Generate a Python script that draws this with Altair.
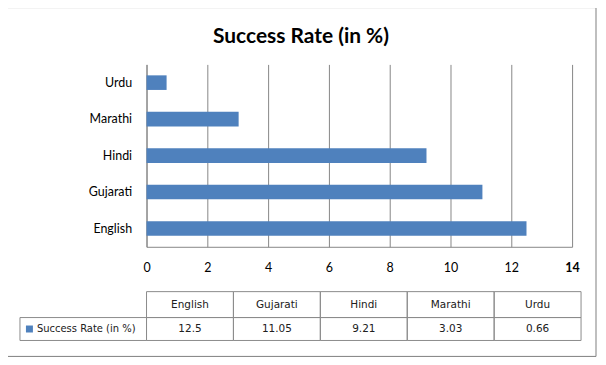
import altair as alt
import pandas as pd

categories = ["English", "Gujarati", "Hindi", "Marathi", "Urdu"]
values = [12.5, 11.05, 9.21, 3.03, 0.66]
x_ticks = [0, 2, 4, 6, 8, 10, 12, 14]
title_text = "Success Rate (in %)"
series_name = "Success Rate (in %)"

df = pd.DataFrame({"cat": categories, "val": values})
one = pd.DataFrame({"t": [title_text], "s": [series_name]})

BLUE = "#4F81BD"
GRID = "#878787"
TBL = "#8C8C8C"
W, H = 427, 183

base = alt.Chart(df)

bars = base.mark_bar(color=BLUE).encode(
    x=alt.X("val:Q",
            scale=alt.Scale(domain=[0, 14], nice=False),
            axis=alt.Axis(values=x_ticks, title=None, grid=True, gridColor=GRID,
                          domainColor=GRID, ticks=False, tickSize=0, labelPadding=15,
                          labelFont="Lato", labelFontSize=12.5, labelColor="#000000",
                          labelFontWeight=alt.ExprRef(expr="datum.value == 14 ? 'bold' : 'normal'"),
                          labelFlush=False)),
    y=alt.Y("cat:N", sort=categories[::-1],
            scale=alt.Scale(paddingInner=0.6, paddingOuter=0.3),
            axis=alt.Axis(title=None, ticks=False, tickSize=0, labelPadding=15,
                          domainColor=GRID, labelFont="Lato", labelFontSize=12.5,
                          labelColor="#000000")),
)

tscale = alt.Scale(domain=categories, range=[0, 436], paddingInner=0, paddingOuter=0)

head_cells = base.mark_rect(fill="white", fillOpacity=0, stroke=TBL, strokeWidth=1).encode(
    x=alt.X("cat:N", sort=categories, scale=tscale, axis=None),
    y=alt.value(228), y2=alt.value(254))
val_cells = base.mark_rect(fill="white", fillOpacity=0, stroke=TBL, strokeWidth=1).encode(
    x=alt.X("cat:N", sort=categories, scale=tscale, axis=None),
    y=alt.value(254), y2=alt.value(277))
head_text = base.mark_text(font="DejaVu Sans", fontSize=10.5, color="#202020",
                           baseline="middle").encode(
    x=alt.X("cat:N", sort=categories, scale=tscale, axis=None, bandPosition=0.5),
    y=alt.value(241), text="cat:N")
val_text = base.mark_text(font="DejaVu Sans", fontSize=10.5, color="#202020",
                          baseline="middle").encode(
    x=alt.X("cat:N", sort=categories, scale=tscale, axis=None, bandPosition=0.5),
    y=alt.value(266), text=alt.Text("val:Q", format=".2~f"))

ob = alt.Chart(one)
row_cell = ob.mark_rect(fill="white", fillOpacity=0, stroke=TBL, strokeWidth=1).encode(
    x=alt.value(-127), x2=alt.value(0), y=alt.value(254), y2=alt.value(277))
legend_sq = ob.mark_rect(fill=BLUE).encode(
    x=alt.value(-121), x2=alt.value(-114), y=alt.value(262), y2=alt.value(269))
legend_txt = ob.mark_text(font="DejaVu Sans", fontSize=10, color="#202020", align="left",
                          baseline="middle").encode(
    x=alt.value(-110), y=alt.value(266), text="s:N")
outer = ob.mark_rect(fill="white", fillOpacity=0, stroke="#7F7F7F", strokeWidth=1).encode(
    x=alt.value(-140), x2=alt.value(451), y=alt.value(-57), y2=alt.value(293))
title = ob.mark_text(font="Lato", fontSize=21, fontWeight="bold", color="#000000",
                     align="center", baseline="middle").encode(
    x=alt.value(155), y=alt.value(-27), text="t:N")

chart = alt.layer(
    bars, head_cells, val_cells, head_text, val_text,
    row_cell, legend_sq, legend_txt, outer, title
).resolve_scale(x="independent").properties(
    width=W, height=H,
    autosize=alt.AutoSizeParams(type="none"),
    padding={"left": 139, "top": 56, "right": 26, "bottom": 113},
    background="white",
).configure_view(stroke=None)

chart.save("out.html", embed_options={"renderer": "svg", "actions": False})
